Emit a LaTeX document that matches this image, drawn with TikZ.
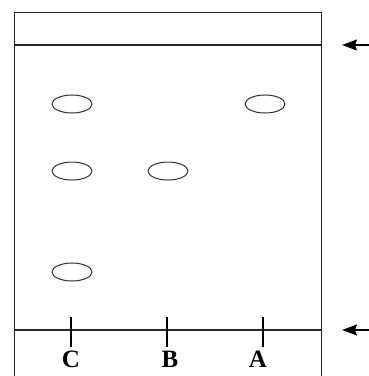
\documentclass[tikz,border=0pt]{standalone}
\usepackage{fontspec}
\setmainfont{Liberation Serif}
\usetikzlibrary{arrows.meta,shapes.geometric}
\begin{document}
\begin{tikzpicture}[x=1pt,y=-1pt,
  frame/.style={line width=1.4pt,draw=black!85},
  spot/.style={draw=black!80,line width=1pt,ellipse,minimum width=40pt,minimum height=18pt,inner sep=0pt},
  tick/.style={line width=1.3pt},
  lab/.style={font=\fontsize{25}{25}\selectfont\bfseries,inner sep=0pt},
  pointer/.style={line width=1.3pt,-{Stealth[length=15pt,width=11pt,inset=2pt]}}]
\useasboundingbox (0,0) rectangle (369,376);
\fill[white] (0,0) rectangle (369,376);
% plate
\draw[frame] (14.5,376) -- (14.5,12.5) -- (321.5,12.5) -- (321.5,376);
\draw[frame] (14.5,45) coordinate (fl) -- (321.5,45) coordinate (fr);
\draw[frame] (14.5,330) coordinate (bl) -- (321.5,330) coordinate (br);
% ticks
\coordinate (tc) at (71,330);
\coordinate (tb) at (167,330);
\coordinate (ta) at (263,330);
\foreach \t in {tc,tb,ta} \draw[tick] ([yshift=13pt]\t) -- ([yshift=-17pt]\t);
% labels
\node[lab,anchor=base] (C) at (71,367) {C};
\node[lab,anchor=base] (B) at (170,367) {B};
\node[lab,anchor=base] (A) at (258,367) {A};
% spots
\node[spot] (c1) at (72,104) {};
\node[spot] (c2) at (72,171) {};
\node[spot] (c3) at (72,272) {};
\node[spot] (b1) at (168,171) {};
\node[spot] (a1) at (265,104) {};
% pointers
\coordinate (p1s) at (369,45);
\coordinate (p1e) at (342,45);
\coordinate (p2s) at (369,330);
\coordinate (p2e) at (342,330);
\draw[pointer] (p1s) -- (p1e);
\draw[pointer] (p2s) -- (p2e);
\end{tikzpicture}
\end{document}
